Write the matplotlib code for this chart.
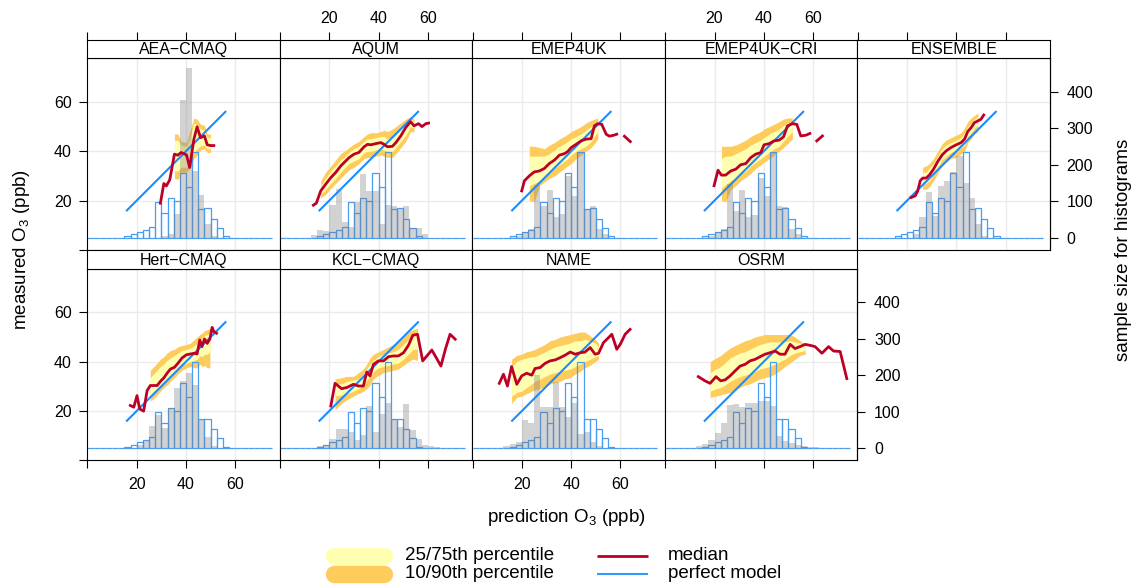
import numpy as np
import matplotlib.pyplot as plt
from matplotlib.lines import Line2D

plt.rcParams['font.family'] = ['Liberation Sans', 'DejaVu Sans']
plt.rcParams['mathtext.default'] = 'regular'

n = np.nan

# --- DATA ---
PANEL_NAMES = ["AEA−CMAQ", "AQUM", "EMEP4UK", "EMEP4UK−CRI", "ENSEMBLE",
               "Hert−CMAQ", "KCL−CMAQ", "NAME", "OSRM"]

# histogram bins: 2.5 ppb wide from 0 to 75 ppb
BIN_EDGES = np.arange(0, 77.5, 2.5)
# observed counts (blue outline) - same in every panel
OBSERVED = [0, 0, 0, 0, 0, 0, 4, 10, 17, 22, 30, 99, 68, 110, 101, 178, 140, 236, 80, 81,
            52, 27, 4, 0, 0, 0, 0, 0, 0, 0]
PERFECT = [16, 56]

AEA_X = [29.6, 31.0, 32.0, 33.4, 35.3, 36.7, 38.0, 40.2, 41.5, 43.2, 44.5, 45.9, 47.5, 48.6, 50.0, 51.3]
AEA_MED = [18.9, 26.9, 25.9, 28.4, 38.8, 38.4, 39.5, 38.5, 33.4, 44.9, 49.9, 45.5, 46.2, 42.6, 42.3, 42.3]
AEA_Q10 = [n, n, n, n, 29, 28.5, 31.5, 31.5, 33, 37, 38.5, 40.5, 41, 39.5, 39.5, n]
AEA_Q25 = [n, n, n, n, 32, 32, 33.5, 33.5, 35.5, 39.5, 41, 42.2, 42.5, 41, 41, n]
AEA_Q75 = [n, n, n, n, 44.5, 44.5, 42.5, 42, 45, 51.5, 50.5, 49, 48.5, 45.5, 45.5, n]
AEA_Q90 = [n, n, n, n, 47, 47, 44, 43.5, 48, 53.5, 53, 51, 50.5, 47, 47, n]
AEA_PRED = [0, 0, 0, 0, 0, 0, 0, 0, 0, 0, 0, 0, 5, 10, 64, 377, 464, 182, 117, 37,
            5, 0, 0, 0, 0, 0, 0, 0, 0, 0]

AQUM_X = [13.5, 14.7, 16.5, 18.5, 20.6, 22.6, 24.6, 26.0, 28.0, 30.0, 32.0, 34.1, 35.5, 36.8,
          38.9, 40.9, 42.2, 43.6, 45.6, 47.0, 49.0, 51.0, 53.0, 54.4, 56.2, 57.6, 59.2, 60.3]
AQUM_MED = [18.1, 18.9, 23.9, 26.6, 29.3, 31.4, 34.0, 35.4, 37.4, 38.8, 39.5, 41.8, 42.8, 42.6,
            43.1, 43.5, 42.8, 41.8, 42.0, 43.5, 46.2, 49.6, 52.0, 50.3, 51.2, 50.0, 51.2, 51.4]
AQUM_Q10 = [n, n, 21, 22.5, 25, 27, 29, 30.5, 32.5, 33.5, 35, 37, 37.5, 37.5,
            38, 38.5, 38, 37.5, 37.5, 39, 41.5, 44, 48, 48, n, n, n, n]
AQUM_Q25 = [n, n, 22.5, 24.5, 27, 29, 31.5, 33, 35, 36, 37, 39.5, 40, 40,
            40.5, 41, 40.5, 40, 40, 41.5, 44, 46.5, 50, 49.5, n, n, n, n]
AQUM_Q75 = [n, n, 26, 29, 32, 34, 36.5, 37.5, 39.5, 41, 42, 44, 45, 45,
            45.5, 46, 46, 45, 46, 47.5, 49.5, 51, 53, 52, n, n, n, n]
AQUM_Q90 = [n, n, 28, 31.5, 34, 36.5, 39, 40, 41.5, 43, 44, 46, 47, 47.5,
            47.5, 48, 48.5, 48, 49, 50, 51.5, 53, 54, 53, n, n, n, n]
AQUM_PRED = [0, 0, 0, 0, 0, 8, 22, 19, 89, 134, 43, 30, 99, 174, 128, 128, 37, 90, 86, 80,
             86, 28, 28, 10, 0, 0, 0, 0, 0, 0]

EMEP_X = [19.9, 21.0, 23.0, 25.0, 27.1, 29.1, 31.1, 33.2, 35.2, 37.2, 38.6, 40.0, 42.0, 44.0,
          46.0, 48.1, 49.4, 50.8, 52.4, 54.2, 55.5, 57.3, 58.5, 60.0, 61.6, 64.0]
EMEP_MED = [23.9, 28.0, 30.0, 31.6, 32.0, 33.0, 35.0, 36.4, 38.4, 39.0, 39.9, 41.5, 42.8, 44.2,
            44.9, 45.1, 50.3, 51.2, 50.9, 46.9, 46.1, 46.5, 46.9, n, 46.1, 43.9]
EMEP_Q10 = [n, n, 20, 19.5, 26, 27.5, 29, 30, 31.5, 33, 34, 35, 37, 38.5,
            40, 41.5, 43, 45, n, n, n, n, n, n, n, n]
EMEP_Q25 = [n, n, 26, 27, 28, 29.5, 31, 33, 34.5, 36, 37, 38.5, 40, 41,
            42, 44, 46, 48, n, n, n, n, n, n, n, n]
EMEP_Q75 = [n, n, 38, 38, 38, 38, 39, 40.5, 42, 43, 44, 45, 46, 47,
            48.5, 50, 51, 52, n, n, n, n, n, n, n, n]
EMEP_Q90 = [n, n, 42, 42, 41.5, 41, 42.5, 43.5, 45, 46, 47, 48, 49, 50,
            51.5, 52.5, 53, 53.5, n, n, n, n, n, n, n, n]
EMEP_PRED = [0, 0, 0, 0, 0, 0, 0, 5, 15, 25, 144, 88, 132, 56, 65, 169, 113, 235, 80, 86,
             24, 10, 0, 0, 0, 0, 0, 0, 0, 0]

CRI_X = [19.8, 21.4, 22.8, 24.5, 26.6, 28.6, 30.6, 32.7, 34.7, 36.7, 38.8, 40.1, 42.2, 44.2,
         46.2, 48.0, 49.6, 51.6, 53.4, 55.0, 57.1, 58.7, 60.0, 61.5, 63.8]
CRI_MED = [26.0, 32.3, 30.3, 30.3, 32.0, 32.7, 34.5, 35.0, 37.4, 38.8, 39.5, 42.6, 43.1, 44.2,
           44.5, 45.8, 50.3, 51.2, 50.9, 46.2, 46.5, 47.2, n, 44.2, 46.2]
CRI_Q10 = [n, n, 20, 19.5, 24.5, 26, 28, 29.5, 31, 33, 34.5, 35.5, 37, 38.5,
           40, 41.5, 43, 45, n, n, n, n, n, n, n]
CRI_Q25 = [n, n, 25, 26.5, 28, 29, 30.5, 32, 34, 35.5, 37, 38, 39.5, 41,
           42, 44, 46, 48, n, n, n, n, n, n, n]
CRI_Q75 = [n, n, 37, 38, 38, 39, 40, 41, 42.5, 43.5, 44.5, 45.5, 47, 48,
           49, 50.5, 51.5, 52, n, n, n, n, n, n, n]
CRI_Q90 = [n, n, 42, 42, 42, 42.5, 43.5, 44.5, 46, 47, 48, 49, 50, 51,
           52, 53, 53.5, 53.5, n, n, n, n, n, n, n]
CRI_PRED = [0, 0, 0, 0, 0, 0, 0, 5, 15, 25, 147, 74, 131, 58, 62, 164, 115, 234, 86, 83,
            24, 10, 0, 0, 0, 0, 0, 0, 0, 0]

ENS_X = [21.6, 23.3, 24.3, 25.3, 26.3, 27.7, 29.0, 30.7, 32.4, 34.2, 35.8, 37.8, 39.9, 41.9,
         43.3, 44.6, 46.0, 47.3, 48.7, 50.0, 51.1]
ENS_MED = [21.2, 21.9, 23.9, 28.0, 29.1, 29.1, 30.3, 32.7, 35.8, 38.5, 40.1, 41.5, 42.6, 43.5,
           44.9, 48.0, 49.6, 51.6, 52.3, 53.0, 54.7]
ENS_Q10 = [n, n, n, n, 24.5, 24.5, 25.5, 28, 31, 34, 35.5, 37, 37.5, 39,
           40, 43.5, 45, 47, 48, n, n]
ENS_Q25 = [n, n, n, n, 26.5, 27, 28, 30.5, 33.5, 36.5, 38, 39.5, 40.5, 41.5,
           42.5, 46, 47.5, 49.5, 50.5, n, n]
ENS_Q75 = [n, n, n, n, 31.5, 31.5, 33, 35, 38, 41, 42.5, 43.5, 44.5, 45.5,
           47.5, 50, 51.5, 53, 54, n, n]
ENS_Q90 = [n, n, n, n, 33.5, 34, 35, 37, 40, 43, 44.5, 45.5, 46.5, 47.5,
           49.5, 52, 53.5, 54.5, 55.5, n, n]
ENS_PRED = [0, 0, 0, 0, 0, 0, 0, 0, 0, 10, 58, 124, 60, 142, 156, 180, 225, 150, 108, 37,
            5, 0, 0, 0, 0, 0, 0, 0, 0, 0]

HERT_X = [17.4, 18.8, 20.1, 21.2, 22.8, 24.2, 25.5, 26.9, 28.3, 29.6, 31.0, 32.3, 33.7, 35.3,
          36.7, 38.4, 40.2, 41.8, 43.4, 44.5, 45.6, 46.5, 47.5, 48.6, 49.7, 50.6, 51.3, 52.4]
HERT_MED = [22.2, 21.5, 26.2, 20.8, 19.9, 28.2, 30.3, 30.3, 30.3, 32.0, 33.4, 35.3, 37.0, 37.7,
            39.3, 41.5, 42.8, 43.1, 43.4, 43.1, 48.8, 46.1, 49.2, 47.4, 49.2, 53.9, 52.2, 51.5]
HERT_Q10 = [n, n, n, n, n, n, 24, 25, 26.5, 28, 29.5, 30.5, 32, 33.5,
            35, 36.5, 37.5, 38, 37.5, 37.5, 39, 38, 38.5, 37.5, 37.5, n, n, n]
HERT_Q25 = [n, n, n, n, n, n, 26.5, 27.5, 28.5, 30, 31.5, 33, 34.5, 35.5,
            37, 38.5, 39.5, 40, 40.5, 41, 42.5, 42, 43, 43, 44, n, n, n]
HERT_Q75 = [n, n, n, n, n, n, 33.5, 35, 36.5, 38, 39, 40.5, 41.5, 42.5,
            43.5, 44.5, 45, 45.5, 46.5, 47.5, 49, 49.5, 50.5, 51, 51.5, n, n, n]
HERT_Q90 = [n, n, n, n, n, n, 36.5, 38, 39.5, 41, 42, 43.5, 44.5, 45,
            46, 46.5, 47, 47.5, 49, 50, 51, 51.5, 52.5, 53, 53.5, n, n, n]
HERT_PRED = [0, 0, 0, 0, 0, 0, 0, 0, 8, 20, 60, 90, 55, 110, 164, 185, 205, 172, 76, 30,
             5, 0, 0, 0, 0, 0, 0, 0, 0, 0]

KCL_X = [20.6, 22.3, 25.0, 27.1, 29.8, 31.8, 33.8, 35.2, 36.5, 37.9, 39.9, 42.0, 44.0, 46.0,
         48.0, 50.1, 52.1, 53.9, 55.8, 57.9, 59.6, 61.6, 63.4, 65.3, 67.1, 69.0, 71.1]
KCL_MED = [22.0, 31.2, 29.0, 29.5, 30.8, 30.1, 30.1, 35.8, 34.2, 38.9, 40.3, 40.3, 42.0, 42.3,
           42.3, 43.6, 46.6, 50.7, 51.1, 40.3, 42.3, 44.7, 41.6, 38.2, 45.0, 51.1, 49.1]
KCL_Q10 = [n, 20.5, 23, 24.5, 26, 27, 28, 29, 30.5, 33, 34.5, 35.5, 36, 36.5,
           37, 38.5, 40, 41, 40.5, n, n, n, n, n, n, n, n]
KCL_Q25 = [n, 26, 26.5, 27, 28, 29, 30.5, 32.5, 34, 36, 37.5, 38, 38.5, 39,
           39.5, 41, 43, 45, 45, n, n, n, n, n, n, n, n]
KCL_Q75 = [n, 31, 31, 32, 32.5, 33, 35, 37, 39, 40.5, 42, 43, 43.5, 44,
           45, 47, 49, 51, 51.5, n, n, n, n, n, n, n, n]
KCL_Q90 = [n, 33, 33.5, 34, 34, 35.5, 37, 39, 41.5, 43, 44, 45, 46, 47,
           48, 50, 52, 53, 53.5, n, n, n, n, n, n, n, n]
KCL_PRED = [0, 0, 0, 0, 0, 0, 5, 10, 25, 52, 52, 45, 22, 35, 116, 43, 93, 125, 81, 58,
            121, 49, 25, 8, 6, 4, 0, 0, 0, 0]

NAME_X = [10.8, 12.5, 14.1, 15.8, 17.9, 19.9, 21.9, 24.0, 25.3, 27.4, 29.4, 31.4, 33.5, 35.5,
          37.5, 39.6, 41.6, 43.6, 45.6, 47.7, 49.7, 51.1, 53.1, 54.5, 56.5, 58.5, 59.9, 61.9, 63.9]
NAME_MED = [31.2, 34.9, 30.1, 38.0, 30.8, 34.2, 35.3, 34.5, 37.2, 37.6, 39.3, 40.3, 40.7, 41.6,
            42.6, 43.9, 43.0, 43.6, 43.9, 45.7, 43.0, 43.4, 47.7, 49.1, 51.1, 45.0, 47.0, 51.1, 53.1]
NAME_Q10 = [n, n, n, 23, 25.5, 26, 27, 28, 28.5, 29, 30, 31, 31.5, 32,
            33, 33.5, 35, 36, 37.5, 38.5, 40, 41, n, n, n, n, n, n, n]
NAME_Q25 = [n, n, n, 26, 27.5, 28, 29.5, 31, 32, 33, 34, 35, 35.5, 36,
            36.5, 37, 38, 39, 40, 41, 42, 42.5, n, n, n, n, n, n, n]
NAME_Q75 = [n, n, n, 38, 40, 41, 41.5, 42, 42, 43, 44, 45, 46, 46.5,
            47, 47.5, 48.5, 48.5, 49, 48.5, 47.5, 46, n, n, n, n, n, n, n]
NAME_Q90 = [n, n, n, 41, 42.5, 43, 44, 44.5, 45, 46, 47, 48.5, 49, 50,
            50.5, 51, 51.5, 52, 52, 50.5, 49, 47.5, n, n, n, n, n, n, n]
NAME_PRED = [0, 0, 0, 0, 0, 5, 12, 18, 78, 70, 199, 114, 112, 180, 114, 85, 125, 40, 43, 18,
             7, 0, 0, 0, 0, 0, 0, 0, 0, 0]

OSRM_X = [13.4, 16.1, 18.2, 20.6, 22.5, 24.3, 26.3, 28.3, 30.4, 32.4, 34.4, 36.4, 38.5, 40.5,
          42.5, 44.6, 46.6, 48.6, 50.7, 52.7, 54.7, 56.8, 58.8, 60.8, 63.6, 66.3, 68.3, 71.0, 73.7]
OSRM_MED = [33.9, 32.2, 31.2, 33.9, 32.2, 32.6, 34.2, 36.2, 38.2, 38.9, 40.3, 40.9, 42.0, 43.0,
            43.6, 44.3, 43.0, 43.0, 47.0, 45.3, 46.1, 47.0, 46.6, 46.1, 43.4, 46.1, 44.3, 44.1, 33.1]
OSRM_Q10 = [n, n, 25.5, 26, 26.5, 27, 27.5, 28.5, 29.5, 30.5, 31, 32, 33, 33.5,
            34, 35, 36.5, 38, 39.5, 41, 42.5, 43, n, n, n, n, n, n, n]
OSRM_Q25 = [n, n, 28, 29, 29.5, 30.5, 32, 33, 34, 34.5, 35, 36, 37, 37.5,
            38, 39, 40, 41, 42.5, 43.5, 44, 44.5, n, n, n, n, n, n, n]
OSRM_Q75 = [n, n, 35.5, 37, 38, 39.5, 41.5, 42.5, 43.5, 44, 45, 46, 47, 47.5,
            48, 48, 48, 48, 48.5, 48, 47.5, 46.5, n, n, n, n, n, n, n]
OSRM_Q90 = [n, n, 40, 41.5, 42.5, 44, 45.5, 46.5, 47.5, 48.5, 49, 50, 50.5, 51,
            51, 51, 51, 51, 51, 50, 48.5, 47, n, n, n, n, n, n, n]
OSRM_PRED = [0, 0, 0, 0, 0, 5, 11, 22, 41, 70, 119, 121, 112, 124, 125, 130, 130, 116, 34, 20,
             15, 10, 6, 4, 3, 0, 0, 0, 0, 0]

PANELS = [
    (AEA_X, AEA_MED, AEA_Q10, AEA_Q25, AEA_Q75, AEA_Q90, AEA_PRED),
    (AQUM_X, AQUM_MED, AQUM_Q10, AQUM_Q25, AQUM_Q75, AQUM_Q90, AQUM_PRED),
    (EMEP_X, EMEP_MED, EMEP_Q10, EMEP_Q25, EMEP_Q75, EMEP_Q90, EMEP_PRED),
    (CRI_X, CRI_MED, CRI_Q10, CRI_Q25, CRI_Q75, CRI_Q90, CRI_PRED),
    (ENS_X, ENS_MED, ENS_Q10, ENS_Q25, ENS_Q75, ENS_Q90, ENS_PRED),
    (HERT_X, HERT_MED, HERT_Q10, HERT_Q25, HERT_Q75, HERT_Q90, HERT_PRED),
    (KCL_X, KCL_MED, KCL_Q10, KCL_Q25, KCL_Q75, KCL_Q90, KCL_PRED),
    (NAME_X, NAME_MED, NAME_Q10, NAME_Q25, NAME_Q75, NAME_Q90, NAME_PRED),
    (OSRM_X, OSRM_MED, OSRM_Q10, OSRM_Q25, OSRM_Q75, OSRM_Q90, OSRM_PRED),
]

# --- STYLE ---
W, H = 1137, 584
C_INNER = '#FFFFB2'
C_OUTER = '#FECC5C'
C_MED = '#BD0026'
C_PERFECT = '#1A8CFF'
C_HIST = '#4A9CF0'
C_GRID = '#EBEBEB'
XLIM = (-0.2, 78.0)
YLIM = (-0.05, 77.8)

# histogram counts live on their own scale, mapped into the panel
BASE = 4.87
SCALE = 0.1483


def count_to_meas(c):
    return BASE + np.asarray(c, dtype=float) * SCALE


def meas_to_count(m):
    return (np.asarray(m, dtype=float) - BASE) / SCALE


fig = plt.figure(figsize=(W / 100, H / 100), dpi=100)


def px_axes(left, top, width, height):
    return fig.add_axes([left / W, 1 - (top + height) / H, width / W, height / H])


def draw_panel(ax, x, med, q10, q25, q75, q90, pred):
    for g in (20, 40, 60):
        ax.axvline(g, color=C_GRID, lw=1, zorder=0)
        ax.axhline(g, color=C_GRID, lw=1, zorder=0)
    x = np.array(x, dtype=float)
    ax.fill_between(x, np.array(q10, float), np.array(q90, float), color=C_OUTER, lw=0, zorder=1)
    ax.fill_between(x, np.array(q25, float), np.array(q75, float), color=C_INNER, lw=0, zorder=1.1)
    left = BIN_EDGES[:-1]
    ax.bar(left, count_to_meas(OBSERVED) - BASE, bottom=BASE, width=2.5, align='edge',
           fill=False, edgecolor=C_HIST, lw=0.9, zorder=2)
    ax.bar(left, count_to_meas(pred) - BASE, bottom=BASE, width=2.5, align='edge',
           color='#7F7F7F', alpha=0.35, lw=0, zorder=2.5)
    ax.plot(PERFECT, PERFECT, color=C_PERFECT, lw=1.5, zorder=3)
    ax.plot(x, med, color=C_MED, lw=2.0, zorder=4)


TICK_KW = dict(direction='out', length=6, width=0.8, labelsize=11.5, color='black')

for i, name in enumerate(PANEL_NAMES):
    r, c = divmod(i, 5)
    left = 87 + 192.6 * c
    top = 58.1 + 210.4 * r
    ax = px_axes(left, top, 192.6, 191.8)
    st = px_axes(left, top - 18.6, 192.6, 18.6)

    draw_panel(ax, *PANELS[i])
    ax.set_xlim(*XLIM)
    ax.set_ylim(*YLIM)
    for sp in ax.spines.values():
        sp.set_linewidth(0.8)

    # x axis
    ax.set_xticks([0, 20, 40, 60])
    if r == 1:
        ax.set_xticklabels(['', '20', '40', '60'] if c in (0, 2) else [''] * 4)
        ax.tick_params(axis='x', pad=6, **TICK_KW)
    else:
        ax.tick_params(axis='x', bottom=False, labelbottom=False)
    # y axis
    ax.set_yticks([0, 20, 40, 60])
    if c == 0:
        ax.set_yticklabels(['', '20', '40', '60'])
        ax.tick_params(axis='y', pad=5, **TICK_KW)
    else:
        ax.tick_params(axis='y', left=False, labelleft=False)
    # histogram count axis
    if (r == 0 and c == 4) or (r == 1 and c == 3):
        sec = ax.secondary_yaxis('right', functions=(meas_to_count, count_to_meas))
        sec.set_yticks([0, 100, 200, 300, 400])
        sec.tick_params(pad=6, **TICK_KW)
        sec.spines['right'].set_linewidth(0.8)

    # strip
    st.set_xlim(*XLIM)
    st.set_yticks([])
    for sp in st.spines.values():
        sp.set_linewidth(0.8)
    st.text(0.5, 0.45, name, transform=st.transAxes, ha='center', va='center', fontsize=11.5)
    if r == 0:
        st.xaxis.tick_top()
        st.set_xticks([0, 20, 40, 60])
        st.set_xticklabels(['', '20', '40', '60'] if c in (1, 3) else [''] * 4)
        st.tick_params(axis='x', pad=4, **TICK_KW)
    else:
        st.set_xticks([])

# axis titles
fig.text(22 / W, 1 - 250 / H, 'measured O$_3$ (ppb)', rotation=90, ha='center', va='center', fontsize=13.5)
fig.text(1123 / W, 1 - 250 / H, 'sample size for histograms', rotation=90, ha='center', va='center',
         fontsize=13.5)
fig.text(566 / W, 1 - 517 / H, 'prediction O$_3$ (ppb)', ha='center', va='center', fontsize=13.5)

# legend
def fig_line(x0, x1, y, color, lw, cap='butt'):
    fig.add_artist(Line2D([x0 / W, x1 / W], [1 - y / H, 1 - y / H], transform=fig.transFigure,
                          color=color, lw=lw, solid_capstyle=cap))


fig_line(334, 384, 556, C_INNER, 12.5, 'round')
fig_line(334, 384, 574, C_OUTER, 12.5, 'round')
fig_line(597, 648, 556, C_MED, 2.0)
fig_line(597, 648, 574, '#3399FF', 1.5)
fig.text(405 / W, 1 - 556 / H, '25/75th percentile', ha='left', va='center', fontsize=13.5)
fig.text(405 / W, 1 - 574 / H, '10/90th percentile', ha='left', va='center', fontsize=13.5)
fig.text(668 / W, 1 - 556 / H, 'median', ha='left', va='center', fontsize=13.5)
fig.text(668 / W, 1 - 574 / H, 'perfect model', ha='left', va='center', fontsize=13.5)

fig.savefig('out.png', dpi=100)
